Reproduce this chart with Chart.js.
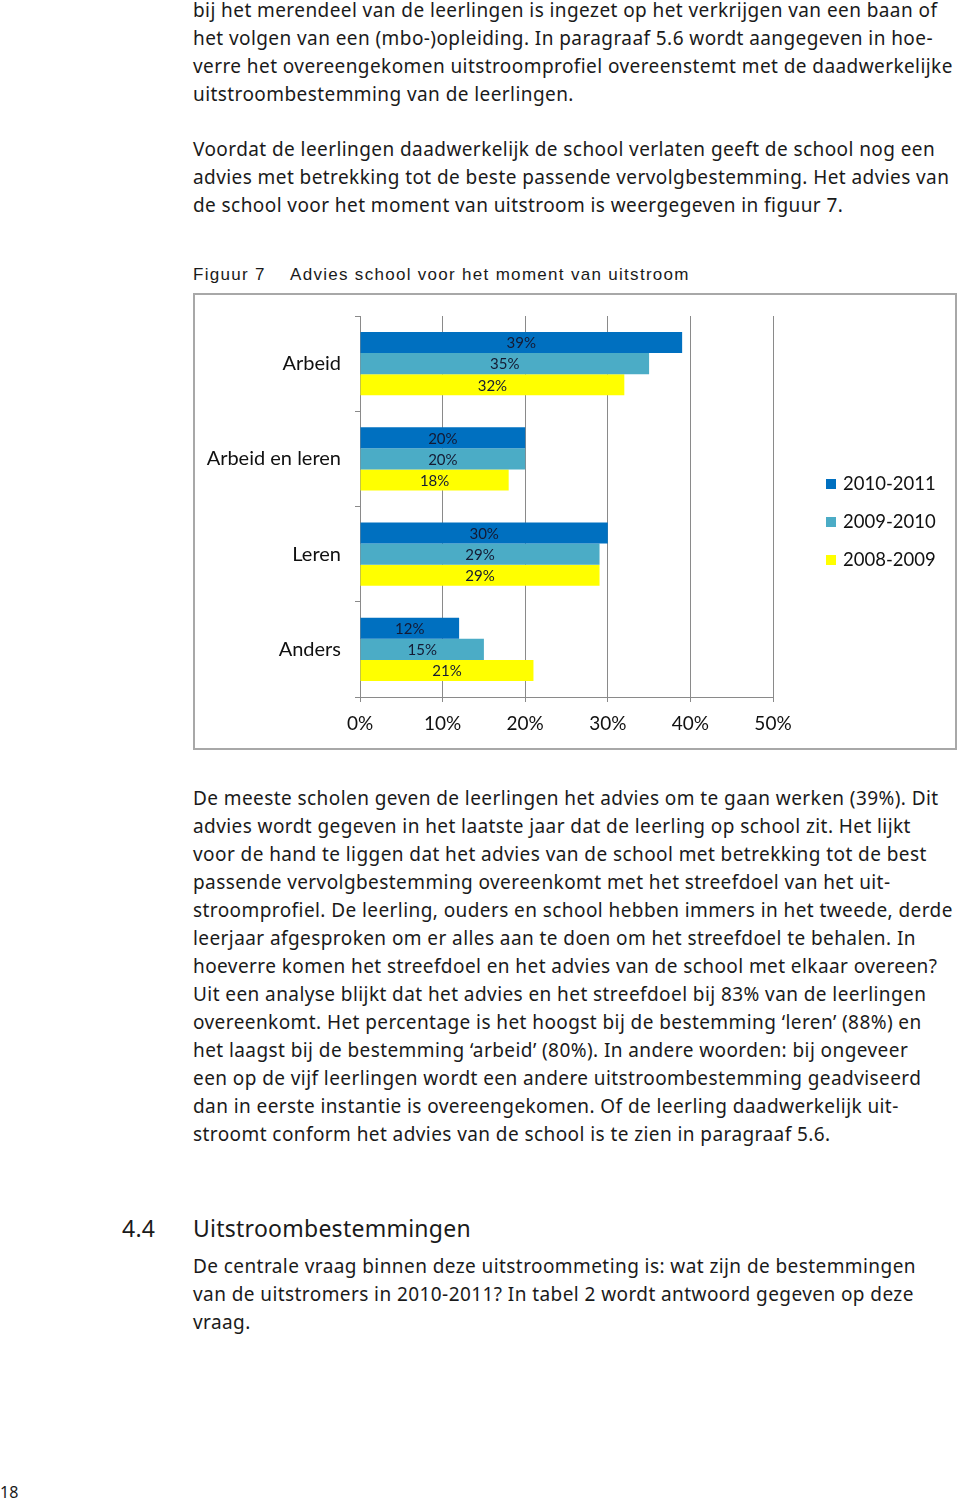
<!DOCTYPE html>
<html>
<head>
<meta charset="utf-8">
<script src="https://cdn.jsdelivr.net/npm/chart.js@4.4.1/dist/chart.umd.min.js"></script>
<style>
  html, body { margin:0; padding:0; background:#fff; }
  body { width:960px; height:1501px; position:relative; overflow:hidden; font-family:"Noto Sans", sans-serif; color:#1a1a1a; }
  .blk { position:absolute; left:193px; font-size:19px; letter-spacing:0.42px; line-height:28px; white-space:nowrap; }
  .cap { position:absolute; top:264px; font-family:"Liberation Sans", Arial, sans-serif; font-size:17px; letter-spacing:1.3px; line-height:22px; white-space:nowrap; }
  .h { position:absolute; top:1213px; font-size:23px; line-height:30px; letter-spacing:0.25px; white-space:nowrap; }
  #box { position:absolute; left:193px; top:293px; width:764px; height:457px; border:2px solid #a8a8a8; box-sizing:border-box; }
  #wrap { position:absolute; left:0; top:0; width:760px; height:453px; }
  .leg { position:absolute; left:631px; font-family:Lato, sans-serif; font-size:18.5px; line-height:24px; white-space:nowrap; color:#111; }
  .leg i { display:inline-block; width:10px; height:10px; margin-right:7px; vertical-align:1px; }
  .pn { position:absolute; left:0; top:1482px; font-size:16px; line-height:20px; }
</style>
</head>
<body>
<div class="blk" style="top:-4px">bij het merendeel van de leerlingen is ingezet op het verkrijgen van een baan of<br>het volgen van een (mbo-)opleiding. In paragraaf 5.6 wordt aangegeven in hoe-<br>verre het overeengekomen uitstroomprofiel overeenstemt met de daadwerkelijke<br>uitstroombestemming van de leerlingen.</div>
<div class="blk" style="top:135px">Voordat de leerlingen daadwerkelijk de school verlaten geeft de school nog een<br>advies met betrekking tot de beste passende vervolgbestemming. Het advies van<br>de school voor het moment van uitstroom is weergegeven in figuur 7.</div>
<div class="cap" style="left:193px">Figuur 7</div>
<div class="cap" style="left:290px">Advies school voor het moment van uitstroom</div>

<div id="box">
  <div id="wrap"><canvas id="c"></canvas></div>
  <div class="leg" style="top:176px"><i style="background:#0070C0"></i>2010-2011</div>
  <div class="leg" style="top:214px"><i style="background:#4BACC6"></i>2009-2010</div>
  <div class="leg" style="top:252px"><i style="background:#FFFF00"></i>2008-2009</div>
</div>

<div class="blk" style="top:784px">De meeste scholen geven de leerlingen het advies om te gaan werken (39%). Dit<br>advies wordt gegeven in het laatste jaar dat de leerling op school zit. Het lijkt<br>voor de hand te liggen dat het advies van de school met betrekking tot de best<br>passende vervolgbestemming overeenkomt met het streefdoel van het uit-<br>stroomprofiel. De leerling, ouders en school hebben immers in het tweede, derde<br>leerjaar afgesproken om er alles aan te doen om het streefdoel te behalen. In<br>hoeverre komen het streefdoel en het advies van de school met elkaar overeen?<br>Uit een analyse blijkt dat het advies en het streefdoel bij 83% van de leerlingen<br>overeenkomt. Het percentage is het hoogst bij de bestemming ‘leren’ (88%) en<br>het laagst bij de bestemming ‘arbeid’ (80%). In andere woorden: bij ongeveer<br>een op de vijf leerlingen wordt een andere uitstroombestemming geadviseerd<br>dan in eerste instantie is overeengekomen. Of de leerling daadwerkelijk uit-<br>stroomt conform het advies van de school is te zien in paragraaf 5.6.</div>
<div class="h" style="left:122px">4.4</div>
<div class="h" style="left:193px">Uitstroombestemmingen</div>
<div class="blk" style="top:1252px">De centrale vraag binnen deze uitstroommeting is: wat zijn de bestemmingen<br>van de uitstromers in 2010-2011? In tabel 2 wordt antwoord gegeven op deze<br>vraag.</div>
<div class="pn">18</div>

<script>
const categories = ["Arbeid", "Arbeid en leren", "Leren", "Anders"];
const seriesNames = ["2010-2011", "2009-2010", "2008-2009"];
const values2010_2011 = [39, 20, 30, 12];
const values2009_2010 = [35, 20, 29, 15];
const values2008_2009 = [32, 18, 29, 21];
const xTicks = [0, 10, 20, 30, 40, 50];
const colors = ["#0070C0", "#4BACC6", "#FFFF00"];

const labelPlugin = {
  id: 'barLabels',
  afterDatasetsDraw(chart) {
    const ctx = chart.ctx;
    ctx.save();
    ctx.font = '15px Lato, sans-serif';
    ctx.fillStyle = '#141a33';
    ctx.textAlign = 'center';
    ctx.textBaseline = 'middle';
    chart.data.datasets.forEach((ds, i) => {
      chart.getDatasetMeta(i).data.forEach((el, j) => {
        const cx = (el.x + el.base) / 2;
        ctx.fillText(ds.data[j] + '%', cx, el.y + 1);
      });
    });
    ctx.restore();
  }
};

new Chart(document.getElementById('c'), {
  type: 'bar',
  data: {
    labels: categories,
    datasets: [
      { label: seriesNames[0], data: values2010_2011, backgroundColor: colors[0] },
      { label: seriesNames[1], data: values2009_2010, backgroundColor: colors[1] },
      { label: seriesNames[2], data: values2008_2009, backgroundColor: colors[2] }
    ]
  },
  options: {
    indexAxis: 'y',
    responsive: true,
    maintainAspectRatio: false,
    animation: false,
    events: [],
    layout: { padding: { left: 0, right: 182, top: 21, bottom: 0 } },
    datasets: { bar: { categoryPercentage: 0.663, barPercentage: 1.0 } },
    plugins: { legend: { display: false }, tooltip: { enabled: false } },
    scales: {
      x: {
        min: 0, max: 50,
        afterBuildTicks(s) { s.ticks = xTicks.map(v => ({ value: v })); },
        afterFit(s) { s.height = 51; s.paddingLeft = 0; s.paddingRight = 0; },
        grid: { color: '#8a8a8a', lineWidth: 1, tickLength: 5, drawTicks: true },
        border: { color: '#8a8a8a', width: 1 },
        ticks: { color: '#111', font: { family: 'Lato, sans-serif', size: 19 }, padding: 10, callback: v => v + '%' }
      },
      y: {
        afterFit(s) { s.width = 165; s.paddingTop = 0; s.paddingBottom = 0; },
        grid: { display: true, drawOnChartArea: false, offset: true, color: '#8a8a8a', tickLength: 5 },
        border: { color: '#8a8a8a', width: 1 },
        ticks: { color: '#111', font: { family: 'Lato, sans-serif', size: 20 }, padding: 14 }
      }
    }
  },
  plugins: [labelPlugin]
});
</script>
</body>
</html>
